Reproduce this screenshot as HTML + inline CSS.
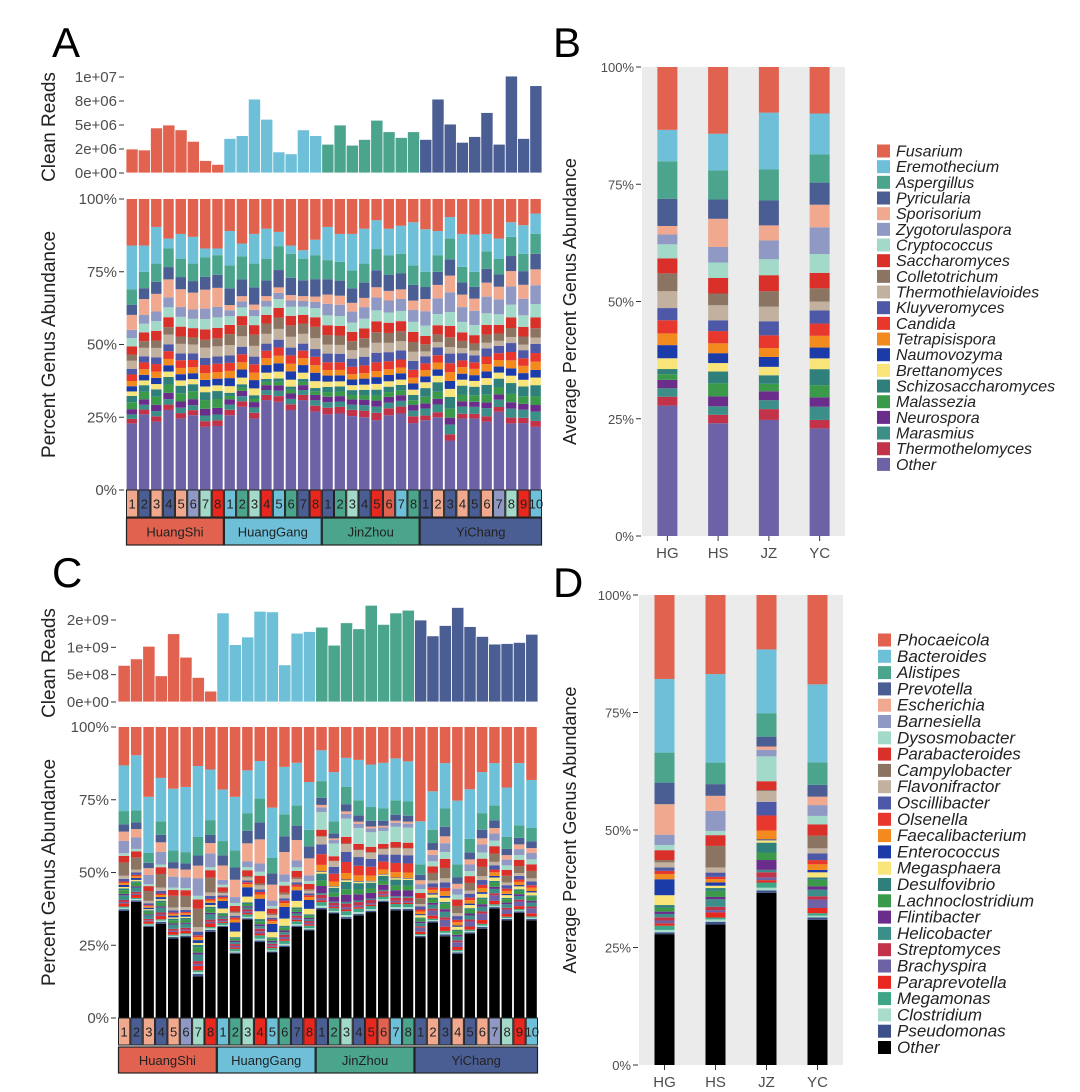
<!DOCTYPE html>
<html><head><meta charset="utf-8"><style>
body{margin:0;background:#fff}
svg{display:block;font-family:"Liberation Sans",sans-serif}
</style></head><body>
<svg id="fig" width="1080" height="1092" viewBox="0 0 1080 1092" xmlns="http://www.w3.org/2000/svg">
<rect width="1080" height="1092" fill="#fff"/>
<text x="52" y="57" font-size="42" fill="#000">A</text>
<text x="553" y="57" font-size="42" fill="#000">B</text>
<text x="52" y="587" font-size="42" fill="#000">C</text>
<text x="553" y="597" font-size="42" fill="#000">D</text>
</svg>
<script>
const NS='http://www.w3.org/2000/svg';
const svg=document.getElementById('fig');
// ---------- data ----------
const groups=['HuangShi','HuangGang','JinZhou','YiChang'];
const groupSizes=[8,8,8,10];
const avgCats=['HG','HS','JZ','YC'];
const sampleLabels=['1','2','3','4','5','6','7','8','1','2','3','4','5','6','7','8','1','2','3','4','5','6','7','8','1','2','3','4','5','6','7','8','9','10'];
const fungi=['Other','Thermothelomyces','Marasmius','Neurospora','Malassezia','Schizosaccharomyces','Brettanomyces','Naumovozyma','Tetrapisispora','Candida','Kluyveromyces','Thermothielavioides','Colletotrichum','Saccharomyces','Cryptococcus','Zygotorulaspora','Sporisorium','Pyricularia','Aspergillus','Eremothecium','Fusarium'];
const fungiColors=['#6e62a6','#c2334a','#3b8f88','#6b2d8c','#3a9a4a','#2f7f7a','#f9e47a','#1a3ba8','#f28a1e','#e8372c','#4d58a6','#c2b19f','#8c7462','#d9312a','#a3d9c9','#8f99c4','#f0a88e','#4b5e94','#4aa58c','#6ec0d9','#e0624f'];
const bHG=[27.8,1.9,1.8,1.8,1.2,1.1,2.3,2.8,2.5,2.8,2.6,3.6,3.8,3.2,3.0,2.1,1.8,5.8,8.0,6.7,13.4];
const bHS=[24.0,1.8,1.8,2.1,2.8,2.5,1.8,2.1,2.1,2.6,2.3,3.2,2.5,3.3,3.3,3.3,6.0,4.1,6.2,7.8,14.2];
const bJZ=[24.7,2.3,1.9,1.9,1.6,1.8,1.8,2.1,1.9,2.7,3.0,3.1,3.3,3.4,3.4,4.0,3.2,5.3,6.6,12.1,9.7];
const bYC=[22.9,1.8,2.8,2.0,2.6,3.4,2.3,2.3,2.5,2.6,2.8,1.9,2.8,3.3,4.0,5.7,4.8,4.7,6.0,8.7,9.9];
const aReads=[2.5,2.4,4.7,5.0,4.5,3.3,1.3,0.9, 3.6,3.9,7.7,5.6,2.2,2.0,4.5,3.9, 3.0,5.0,2.9,3.5,5.5,4.3,3.7,4.3, 3.5,7.7,5.1,3.2,3.8,6.3,3.0,10.1,3.6,9.1]; // millions
const aOther=[22.9,26,23.5,27.5,24.6,25.7,21.7,22, 25.7,28.6,24.6,30.9,30.3,27.5,30.9,27, 26,26.3,25.4,25,24,25.7,26.3,23, 24,25,17,24.6,24.6,23.5,26.9,22.9,23,21.7];
const aFusarium=[16,16,9.6,13.6,12,13,17,17, 11,15.3,12,10.2,11.3,16,17.6,14, 9.6,12,12,10.2,7.3,10.2,9.2,8, 10.4,11,6.2,12,12.2,12,13.6,8,9,5];
const aEremothecium=[15,9,12.6,3.4,8.5,9.2,3,2.3, 11.8,4.4,10.2,10.3,4.9,2.8,2.9,5.3, 11.4,9.6,12.5,12,9.9,9.1,9.6,14.8, 14.6,8.3,7.4,11.3,12.8,6,6.9,5,9.8,7];
const bacteria=['Other','Pseudomonas','Clostridium','Megamonas','Paraprevotella','Brachyspira','Streptomyces','Helicobacter','Flintibacter','Lachnoclostridium','Desulfovibrio','Megasphaera','Enterococcus','Faecalibacterium','Olsenella','Oscillibacter','Flavonifractor','Campylobacter','Parabacteroides','Dysosmobacter','Barnesiella','Escherichia','Prevotella','Alistipes','Bacteroides','Phocaeicola'];
const bacteriaColors=['#000000','#3d4f88','#a8dccb','#3ea586','#e8281e','#6e62a6','#c2334a','#3b8f88','#6b2d8c','#3a9a4a','#2f7f7a','#f9e47a','#1a3ba8','#f28a1e','#e8372c','#4d58a6','#c2b19f','#8c7462','#d9312a','#a3d9c9','#8f99c4','#f0a88e','#4b5e94','#4aa58c','#6ec0d9','#e0624f'];
const dHG=[27.9,0.4,0.5,0.9,0.5,0.6,0.7,0.7,0.5,0.8,0.6,2.1,3.4,1.1,0.7,0.7,1.1,0.5,2.1,1.1,2.2,6.5,4.6,6.4,15.7,17.9];
const dHS=[30.0,0.6,0.5,0.4,1.1,0.5,0.7,1.6,0.5,1.3,0.6,0.5,0.7,0.7,0.5,0.9,1.1,4.6,2.3,0.9,4.3,3.2,2.5,4.6,18.9,16.9];
const dJZ=[36.7,0.5,0.6,1.1,0.5,0.6,1.1,0.5,2.1,1.6,2.1,0.5,0.2,1.9,3.2,2.9,2.3,0.2,1.9,5.3,1.4,0.7,2.1,5.0,13.6,11.6];
const dYC=[30.9,0.5,0.4,0.5,1.1,1.8,0.7,1.4,0.7,1.4,0.5,1.1,0.5,1.2,0.9,1.4,1.1,2.7,2.4,1.8,2.3,1.8,2.5,4.8,16.6,19.0];
const cReads=[0.67,0.79,1.02,0.48,1.25,0.82,0.45,0.2, 1.63,1.05,1.19,1.66,1.65,0.68,1.26,1.29, 1.37,1.04,1.45,1.34,1.77,1.42,1.63,1.68, 1.5,1.21,1.4,1.73,1.38,1.2,1.06,1.07,1.09,1.24]; // billions
const cOther=[36.8,39.9,31.3,32.4,27.3,27.8,14.3,29.6, 31.3,22.1,33.9,26.1,22.5,24.4,31.3,30.1, 37.3,35.9,34.1,35.3,36.4,39.9,37,37, 27.8,32.8,28.1,22.1,29,30.7,37.6,33.6,36.2,33.6];
const cPhocaeicola=[13.2,9.7,24,17.5,21.2,20.6,13.4,14.6, 21.5,24,14.9,11.7,27.7,13.7,12.3,18.9, 8,15.5,10.6,11.3,12.9,12.3,10.8,11.8, 32.4,22.1,12.4,25.3,21.4,15.5,12.4,20.8,12.4,18.2];
const cBacteroides=[15.7,18.9,19.3,14.9,21.2,22.4,24.4,17.4, 17.7,18.4,14.7,12.9,17.2,16.3,14.7,16.4, 10.6,16.9,10,13.9,14.6,15.7,14.4,13.8, 14.8,13.2,15.6,21.9,17,14.1,14.6,17,21.4,16.5];
const readTicksA=[0,2.5,5,7.5,10], readTickLabelsA=['0e+00','2e+06','5e+06','8e+06','1e+07'];
const readTicksC=[0,0.5,1,1.5], readTickLabelsC=['0e+00','5e+08','1e+09','2e+09'];
const pctTicks=[0,25,50,75,100], pctTickLabels=['0%','25%','50%','75%','100%'];
const labelColors=['#f0a88e','#4b5e94','#f0a88e','#4b5e94','#f0a88e','#8f99c4','#a3d9c9','#e8281e','#6ec0d9','#4aa58c','#a3d9c9','#e8281e','#6ec0d9','#4aa58c','#4b5e94','#e8281e','#4b5e94','#4aa58c','#a3d9c9','#4b5e94','#e8281e','#e0624f','#6ec0d9','#4aa58c','#4b5e94','#f0a88e','#4b5e94','#f0a88e','#4b5e94','#f0a88e','#8f99c4','#a3d9c9','#e8281e','#6ec0d9'];
const groupColors=['#e0624f','#6ec0d9','#4aa58c','#4b5e94'];
// ---------- helpers ----------
function mk(tag,attrs,parent){const e=document.createElementNS(NS,tag);for(const k in attrs)e.setAttribute(k,attrs[k]);(parent||svg).appendChild(e);return e;}
function txt(x,y,s,size,fill,anchor,extra){const t=mk('text',Object.assign({x:x,y:y,'font-size':size,fill:fill,'text-anchor':anchor||'start'},extra||{}));t.textContent=s;return t;}
function groupOf(i){let c=0;for(let g=0;g<groupSizes.length;g++){c+=groupSizes[g];if(i<c)return g;}return 3;}
function stack(x,w,yScale,segs,colors,name){let cum=0;const tot=segs.reduce((a,b)=>a+b,0);
  segs.forEach((v,k)=>{const y1=yScale(cum/tot*100),y2=yScale((cum+v)/tot*100);cum+=v;
    const r=mk('rect',{x:x,y:y2,width:w,height:Math.max(0,y1-y2),fill:colors[k]});
    
    });}
function sampleSegs(i,other,top,second,profiles,n){const p=profiles[i];const mid=p.slice(1,n-2);const ms=mid.reduce((a,b)=>a+b,0);
  const rem=Math.max(0,100-other[i]-top[i]-second[i]);return [other[i]].concat(mid.map(v=>v/ms*rem)).concat([second[i],top[i]]);}
function rotText(x,y,s,size,name){const t=txt(x,y,s,size,'#222','middle',{transform:'rotate(-90 '+x+' '+y+')'});
  
  }
// ---------- sample panels ----------
function samplePanel(o){
  const n=sampleLabels.length, slot=(o.x1-o.x0)/n;
  const ry=v=>o.rBase-(v/o.rMax)*(o.rBase-o.rTop);
  o.rTicks.forEach((t,k)=>{const y=ry(t);mk('line',{x1:o.x0-7,x2:o.x0-2,y1:y,y2:y,stroke:'#333'});
    const l=txt(o.x0-9,y+5,o.rLabels[k],15,'#4d4d4d','end');
    
    });
  o.reads.forEach((v,i)=>{const r=mk('rect',{x:o.x0+i*slot,y:ry(v),width:slot,height:o.rBase-ry(v),fill:groupColors[groupOf(i)],stroke:'#fff','stroke-width':0.8});
    
    });
  rotText(o.titleX,(o.rTop+o.rBase)/2+2,'Clean Reads',19,'clean-reads-title');
  const py=v=>o.pBase-(v/100)*(o.pBase-o.pTop);
  pctTicks.forEach((t,k)=>{const y=py(t);mk('line',{x1:o.x0-7,x2:o.x0-2,y1:y,y2:y,stroke:'#333'});
    const l=txt(o.x0-9,y+5,pctTickLabels[k],15,'#4d4d4d','end');
    
    });
  rotText(o.titleX,(o.pTop+o.pBase)/2,'Percent Genus Abundance',19,'percent-axis-title');
  for(let i=0;i<n;i++){const g=groupOf(i);const prof=o.profiles[g];
    const segs=sampleSegs(0,[o.other[i]],[o.top[i]],[o.second[i]],[prof],prof.length);
    stack(o.x0+i*slot+0.6,slot-1.8,py,segs,o.colors,'sample-bar-'+(i+1));}
  for(let i=0;i<n;i++){const x=o.x0+i*slot;
    const b=mk('rect',{x:x+0.5,y:o.lTop,width:slot-1,height:o.lH,fill:labelColors[i],stroke:'#222','stroke-width':1});
    
    
    const t=txt(x+slot/2,o.lTop+o.lH/2+5,sampleLabels[i],13,'#222','middle');
    
    }
  let c=0;groupSizes.forEach((s,g)=>{const x=o.x0+c*slot;c+=s;
    const b=mk('rect',{x:x+0.5,y:o.gTop,width:s*slot-1,height:o.gH,fill:groupColors[g],stroke:'#222','stroke-width':1.2});
    
    
    const t=txt(x+s*slot/2,o.gTop+o.gH/2+5,groups[g],13,'#222','middle');
    
    });
}
samplePanel({x0:126,x1:542,rBase:173,rTop:77,rMax:10,rTicks:readTicksA,rLabels:readTickLabelsA,reads:aReads,titleX:55,
  pTop:199,pBase:490,other:aOther,top:aFusarium,second:aEremothecium,profiles:[bHS,bHG,bJZ,bYC],colors:fungiColors,
  lTop:490,lH:27,gTop:518,gH:27});
samplePanel({x0:118,x1:538,rBase:702,rTop:620,rMax:1.5,rTicks:readTicksC,rLabels:readTickLabelsC,reads:cReads,titleX:55,
  pTop:727,pBase:1018,other:cOther,top:cPhocaeicola,second:cBacteroides,profiles:[dHS,dHG,dJZ,dYC],colors:bacteriaColors,
  lTop:1018,lH:27,gTop:1047,gH:26});
// ---------- average panels ----------
function avgPanel(o){
  const bg=mk('rect',{x:o.x0,y:o.top,width:o.x1-o.x0,height:o.base-o.top,fill:'#ebebeb'});
  
  
  const py=v=>o.base-(v/100)*(o.base-o.top);
  pctTicks.forEach((t,k)=>{const y=py(t);mk('line',{x1:o.x0-6,x2:o.x0-1,y1:y,y2:y,stroke:'#333'});
    const l=txt(o.x0-8,y+5,pctTickLabels[k],13,'#4d4d4d','end');
    
    });
  const slot=(o.x1-o.x0)/avgCats.length;
  o.data.forEach((d,i)=>{const cx=o.x0+slot*(i+0.5);
    stack(cx-10,20,py,d,o.colors,'avg-bar-'+avgCats[i].toLowerCase());
    mk('line',{x1:cx,x2:cx,y1:o.base,y2:o.base+5,stroke:'#333'});
    const l=txt(cx,o.base+22,avgCats[i],15,'#4d4d4d','middle');
    
    });
  rotText(o.titleX,(o.top+o.base)/2,'Average Percent Genus Abundance',18,'avg-axis-title');
  const n=o.names.length;
  for(let k=0;k<n;k++){const idx=n-1-k;const y=o.ly+k*o.lstep;
    const r=mk('rect',{x:o.lx,y:y-6.5,width:13,height:13,fill:o.colors[idx]});
    
    
    const t=txt(o.lx+19,y+5.5,o.names[idx],o.lfs,'#222','start',{'font-style':'italic'});
    
    }
}
avgPanel({x0:642,x1:845,top:67,base:536,data:[bHG,bHS,bJZ,bYC],colors:fungiColors,names:fungi,titleX:576,lx:877,ly:151,lstep:15.67,lfs:16});
avgPanel({x0:639,x1:843,top:595,base:1065,data:[dHG,dHS,dJZ,dYC],colors:bacteriaColors,names:bacteria,titleX:576,lx:878,ly:640,lstep:16.3,lfs:17});
</script>
</body></html>
